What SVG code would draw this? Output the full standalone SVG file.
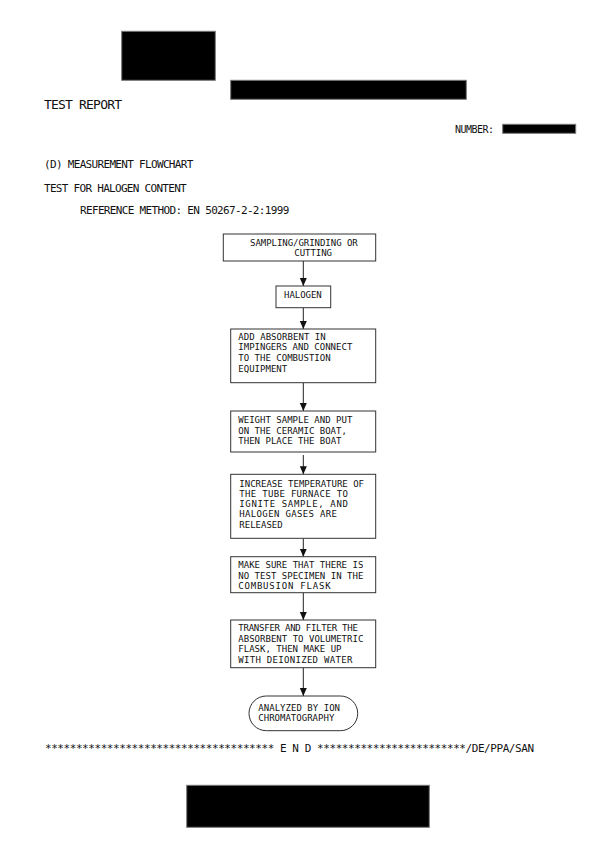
<svg xmlns="http://www.w3.org/2000/svg" width="600" height="849" viewBox="0 0 600 849">
<style>
text{font-family:"DejaVu Sans Mono","Liberation Mono",monospace;fill:#111}
.h{font-size:11px}
.t{font-size:9px}
.box{fill:#fff;stroke:#333;stroke-width:1}
.red{fill:#000;stroke:#777;stroke-width:1}
.con{stroke:#222;stroke-width:1;fill:none;marker-end:url(#ah)}
</style>
<defs>
<marker id="ah" viewBox="0 0 8 8" refX="8" refY="4" markerWidth="8" markerHeight="8" markerUnits="userSpaceOnUse" orient="auto">
<path d="M0,0.5 L8,4 L0,7.5 Z" fill="#111"/>
</marker>
</defs>
<rect width="600" height="849" fill="#fff"/>
<g id="header">
<rect class="red" x="121.7" y="31.3" width="93.6" height="49"/>
<rect class="red" x="230.7" y="80.3" width="235.6" height="19"/>
<text x="44" y="109.3" style="font-size:13px" textLength="78" lengthAdjust="spacing">TEST REPORT</text>
<text x="455" y="132.7" style="font-size:10px" textLength="39" lengthAdjust="spacing">NUMBER:</text>
<rect class="red" x="502.7" y="124.3" width="73" height="9"/>
<text class="h" x="44" y="168.3" textLength="149.3" lengthAdjust="spacing">(D) MEASUREMENT FLOWCHART</text>
<text class="h" x="44" y="191.7" textLength="142.7" lengthAdjust="spacing">TEST FOR HALOGEN CONTENT</text>
<text class="h" x="80" y="213.7" textLength="209.3" lengthAdjust="spacing">REFERENCE METHOD: EN 50267-2-2:1999</text>
</g>
<g id="connectors">
<line class="con" x1="303.3" y1="261" x2="303.3" y2="286"/>
<line class="con" x1="303.3" y1="307.7" x2="303.3" y2="329"/>
<line class="con" x1="303.3" y1="382.7" x2="303.3" y2="411"/>
<line class="con" x1="303.3" y1="455" x2="303.3" y2="474.3"/>
<line class="con" x1="303.3" y1="538.3" x2="303.3" y2="556.7"/>
<line class="con" x1="303.3" y1="592.7" x2="303.3" y2="620"/>
<line class="con" x1="303.3" y1="667.7" x2="303.3" y2="696"/>
</g>
<g id="n1">
<rect class="box" x="223.3" y="234" width="152.4" height="27"/>
<text class="t" x="250" y="245.7" textLength="107.7" lengthAdjust="spacing">SAMPLING/GRINDING OR</text>
<text class="t" x="294.3" y="255.7" textLength="37.7" lengthAdjust="spacing">CUTTING</text>
</g>
<g id="n2">
<rect class="box" x="276" y="286" width="54.7" height="21.7"/>
<text class="t" x="284" y="297.7" textLength="37.7" lengthAdjust="spacing">HALOGEN</text>
</g>
<g id="n3">
<rect class="box" x="230.7" y="329" width="145" height="53.7"/>
<text class="t" x="238.3" y="339.5" textLength="87.4" lengthAdjust="spacing">ADD ABSORBENT IN</text>
<text class="t" x="238.3" y="350" textLength="114" lengthAdjust="spacing">IMPINGERS AND CONNECT</text>
<text class="t" x="238.3" y="360.7" textLength="92.3" lengthAdjust="spacing">TO THE COMBUSTION</text>
<text class="t" x="238.3" y="371.7" textLength="48.9" lengthAdjust="spacing">EQUIPMENT</text>
</g>
<g id="n4">
<rect class="box" x="230.7" y="411" width="145" height="41"/>
<text class="t" x="238.3" y="423.3" textLength="114" lengthAdjust="spacing">WEIGHT SAMPLE AND PUT</text>
<text class="t" x="238.3" y="433.7" textLength="108.6" lengthAdjust="spacing">ON THE CERAMIC BOAT,</text>
<text class="t" x="238.3" y="444" textLength="103.2" lengthAdjust="spacing">THEN PLACE THE BOAT</text>
</g>
<g id="n5">
<rect class="box" x="230.7" y="474.3" width="145" height="64"/>
<text class="t" x="239.3" y="486.7" textLength="124.7" lengthAdjust="spacing">INCREASE TEMPERATURE OF</text>
<text class="t" x="239.3" y="496.9" textLength="108.6" lengthAdjust="spacing">THE TUBE FURNACE TO</text>
<text class="t" x="239.3" y="507.1" textLength="108.6" lengthAdjust="spacing">IGNITE SAMPLE, AND</text>
<text class="t" x="239.3" y="517.3" textLength="97.7" lengthAdjust="spacing">HALOGEN GASES ARE</text>
<text class="t" x="239.3" y="527.5" textLength="43.4" lengthAdjust="spacing">RELEASED</text>
</g>
<g id="n6">
<rect class="box" x="230.7" y="556.7" width="145" height="36"/>
<text class="t" x="238.3" y="568.3" textLength="125" lengthAdjust="spacing">MAKE SURE THAT THERE IS</text>
<text class="t" x="238.3" y="578.8" textLength="125" lengthAdjust="spacing">NO TEST SPECIMEN IN THE</text>
<text class="t" x="238.3" y="589.3" textLength="92.3" lengthAdjust="spacing">COMBUSION FLASK</text>
</g>
<g id="n7">
<rect class="box" x="230.7" y="620" width="145" height="47.7"/>
<text class="t" x="238.3" y="631" textLength="119.5" lengthAdjust="spacing">TRANSFER AND FILTER THE</text>
<text class="t" x="238.3" y="641.6" textLength="125" lengthAdjust="spacing">ABSORBENT TO VOLUMETRIC</text>
<text class="t" x="238.3" y="652.2" textLength="103.2" lengthAdjust="spacing">FLASK, THEN MAKE UP</text>
<text class="t" x="238.3" y="662.8" textLength="114" lengthAdjust="spacing">WITH DEIONIZED WATER</text>
</g>
<g id="n8">
<rect class="box" x="249" y="696" width="108.7" height="34.7" rx="17.3" ry="17.3"/>
<text class="t" x="258.3" y="711" textLength="81.7" lengthAdjust="spacing">ANALYZED BY ION</text>
<text class="t" x="258.3" y="721.3" textLength="76" lengthAdjust="spacing">CHROMATOGRAPHY</text>
</g>
<g id="footer">
<text class="h" x="45" y="751.7" textLength="489" lengthAdjust="spacing">************************************* E N D ************************/DE/PPA/SAN</text>
<rect class="red" x="186.7" y="785.3" width="242.6" height="42"/>
</g>
</svg>
